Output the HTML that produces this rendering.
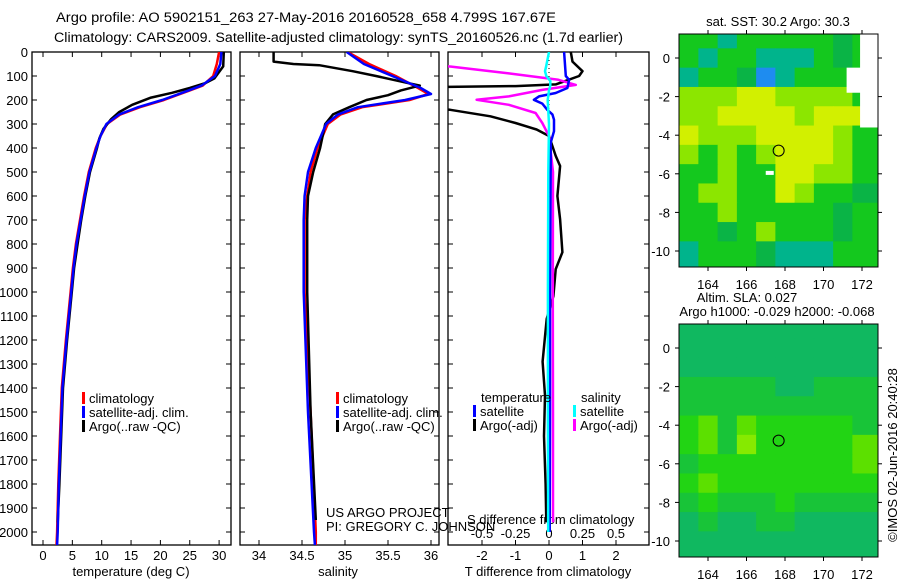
<!DOCTYPE html>
<html><head><meta charset="utf-8">
<style>
html,body{margin:0;padding:0;background:#fff;}
svg{display:block;font-family:"Liberation Sans",sans-serif;}
text{fill:#000;}
</style></head>
<body>
<svg id="chart" width="900" height="580" viewBox="0 0 900 580" xmlns="http://www.w3.org/2000/svg">
<defs>
<clipPath id="c1"><rect x="32" y="52" width="199" height="493"/></clipPath>
<clipPath id="c2"><rect x="240" y="52" width="199" height="493"/></clipPath>
<clipPath id="c3"><rect x="448" y="52" width="201" height="493"/></clipPath>
<clipPath id="m1"><rect x="679" y="34" width="199" height="233"/></clipPath>
<clipPath id="m2"><rect x="679" y="324" width="199" height="233"/></clipPath>
</defs>
<text x="56" y="22" font-size="13.5" textLength="500" lengthAdjust="spacingAndGlyphs">Argo profile: AO 5902151_263 27-May-2016 20160528_658 4.799S 167.67E</text>
<text x="54" y="42" font-size="13.5" textLength="569" lengthAdjust="spacingAndGlyphs">Climatology: CARS2009. Satellite-adjusted climatology: synTS_20160526.nc (1.7d earlier)</text>
<g id="layer"></g>
</svg>
<script>
// ---------- data ----------
const depthTicks=[0,100,200,300,400,500,600,700,800,900,1000,1100,1200,1300,1400,1500,1600,1700,1800,1900,2000];
const tempTicks=[0,5,10,15,20,25,30];
const salTicks=[34,34.5,35,35.5,36];
const tdTicks=[-2,-1,0,1,2];
const sdTicks=[-0.5,-0.25,0,0.25,0.5];
const sdTickLabels=["-0.5","-0.25","0","0.25","0.5"];
const lonTicks=[164,166,168,170,172];
const latTicks=[0,-2,-4,-6,-8,-10];

const tClimDepth=[0,50,100,140,160,180,200,230,260,300,350,400,500,600,700,800,900,1000,1200,1400,1600,1800,2000,2054];
const tClim=[30.0,29.6,29.0,27.2,25.0,22.8,20.6,16.5,13.2,10.9,9.8,9.0,7.8,7.0,6.3,5.6,5.1,4.7,3.9,3.2,2.9,2.6,2.4,2.3];
const tSat=[30.4,30.2,29.3,27.0,24.8,22.6,20.3,16.2,13.0,10.8,9.8,9.1,7.9,7.1,6.4,5.7,5.2,4.8,4.0,3.3,3.0,2.7,2.5,2.4];
const tArgoDepth=[0,60,110,130,150,170,190,220,250,280,320,360,400,500,600,700,800,900,1000,1200,1400,1600,1800,1960];
const tArgo=[30.8,30.7,29.2,27.6,25.0,22.0,18.4,15.2,13.0,11.6,10.3,9.6,9.2,8.0,7.2,6.5,5.9,5.3,4.9,4.1,3.4,3.1,2.8,2.5];

const sClimDepth=[0,50,100,150,175,200,230,260,300,400,500,600,700,1000,1500,2000,2054];
const sClim=[35.03,35.28,35.59,35.85,35.97,35.75,35.2,34.95,34.8,34.68,34.6,34.56,34.53,34.53,34.6,34.66,34.66];
const sSat=[35.02,35.22,35.55,35.88,36.0,35.7,35.15,34.92,34.78,34.66,34.57,34.53,34.52,34.52,34.57,34.64,34.65];
const sArgoDepth=[0,40,50,55,80,100,130,140,160,180,200,230,260,300,400,500,600,700,1000,1500,1950];
const sArgo=[34.17,34.17,34.4,34.7,35.09,35.36,35.74,35.87,35.65,35.5,35.25,35.05,34.86,34.77,34.71,34.63,34.57,34.56,34.56,34.6,34.66];

const dTSatDepth=[0,100,116,150,171,185,199,215,241,260,282,330,378,450,1000,1500,2000];
const dTSat=[0.45,0.5,0.6,0.55,0.2,-0.3,-0.45,-0.2,-0.05,0.1,0.15,0.15,0.05,0.05,0.03,0.03,0.02];
const dTArgoDepth=[0,40,80,100,120,135,142,146,236,241,268,296,323,350,433,475,600,697,834,905,1017,1112,1290,1431,1600,1800,1960];
const dTArgo=[0.65,0.7,1.0,0.9,0.5,0.2,-1.0,-3.5,-3.5,-2.95,-1.75,-1.0,-0.37,0.0,0.2,0.33,0.25,0.33,0.4,0.2,0.13,-0.07,-0.19,-0.12,-0.15,-0.1,-0.08];
const dSSatDepth=[0,61,80,100,120,140,160,200,300,500,1000,1500,2000];
const dSSat=[0,-0.022,-0.03,-0.02,0.01,0.01,0,-0.01,0,-0.005,-0.008,-0.008,-0.006];
const dSArgoDepth=[0,55,61,89,116,137,158,185,199,220,254,296,350,500,1000,1500,1960];
const dSArgo=[-1.0,-0.9,-0.73,-0.3,0.07,0.2,-0.05,-0.3,-0.54,-0.3,-0.1,-0.05,0.0,0.03,0.028,0.03,0.03];

// maps: rows lat 1..-10, cols lon 163..172
const sstRows=["ggcgggggmg","gcggcccgmg","cggmbcgggg","lllyyllllg","llyyyylyyy","ylllyyyylg","lglglyyylg","gglggyyllg","gllggylggm","gglgggggmg","ggmglgggmg","cgggmcccgg"];
const slaRows=["tttttttttt","tttttttttt","tttttttttt","mmmmmttmmm","mmmmmmmmmm","glmlgggggm","glmkgggggl","mggggggggl","glgggggggg","mgmmmgmmmm","tmttmmtttt","tttttttttt"];

// ---------- helpers ----------
const NS="http://www.w3.org/2000/svg";
const layer=document.getElementById('layer');
function mk(tag,attrs,parent){const e=document.createElementNS(NS,tag);for(const k in attrs)e.setAttribute(k,attrs[k]);(parent||layer).appendChild(e);return e;}
const yD=d=>52+d*0.24;
const xT=t=>43+t*5.87;
const xS=s=>259+(s-34)*86;
const xTd=t=>549+t*33.5;
const xSd=s=>549+s*134;
const xLon=l=>708+(l-164)*19.25;
const yLat1=l=>58-l*19.3;
const yLat2=l=>348-l*19.3;

function pts(depths,vals,fx){return depths.map((d,i)=>fx(vals[i]).toFixed(1)+","+yD(d).toFixed(1)).join(" ");}

// panels
const panels=[[32,231,'temperature-panel'],[240,439,'salinity-panel'],[448,649,'difference-panel']];
panels.forEach(p=>{
  const r=mk('rect',{x:p[0],y:52,width:p[1]-p[0],height:493,fill:'none',stroke:'#000','stroke-width':1.3});
  
  
  depthTicks.forEach(d=>{
    mk('line',{x1:p[0],x2:p[0]+5,y1:yD(d),y2:yD(d),stroke:'#000'});
    mk('line',{x1:p[1]-5,x2:p[1],y1:yD(d),y2:yD(d),stroke:'#000'});
  });
});
depthTicks.forEach(d=>{
  const t=mk('text',{x:28,y:yD(d)+5,'font-size':13,'text-anchor':'end'});t.textContent=d;
  
  
});
function xticks(vals,labels,fx,ty,fs){
  vals.forEach((v,i)=>{
    mk('line',{x1:fx(v),x2:fx(v),y1:540,y2:545,stroke:'#000'});
    mk('line',{x1:fx(v),x2:fx(v),y1:52,y2:57,stroke:'#000'});
    const t=mk('text',{x:fx(v),y:ty,'font-size':fs||13,'text-anchor':'middle'});t.textContent=labels[i];
    
    
  });
}
xticks(tempTicks,tempTicks,xT,560);
xticks(salTicks,salTicks,xS,560);
xticks(tdTicks,tdTicks,xTd,560);
sdTicks.forEach((v,i)=>{const t=mk('text',{x:xSd(v),y:538,'font-size':13,'text-anchor':'middle'});t.textContent=sdTickLabels[i];
  
  });
function lbl(x,y,s,name,anchor,fs){const t=mk('text',{x:x,y:y,'font-size':fs||13,'text-anchor':anchor||'middle'});t.textContent=s;
  
  return t;}
lbl(131,576,'temperature (deg C)','temperature-axis-title');
lbl(338,576,'salinity','salinity-axis-title');
lbl(548,576,'T difference from climatology','t-diff-axis-title');
lbl(467,524,'S difference from climatology','s-diff-axis-title','start');
lbl(326,517,'US ARGO PROJECT','project-label','start');
lbl(326,531,'PI: GREGORY C. JOHNSON','pi-label','start');

// dotted zero line
mk('line',{x1:549,x2:549,y1:52,y2:200,stroke:'#000','stroke-dasharray':'1,3'});

function line(cp,d,v,fx,col,name){
  const pl=mk('polyline',{points:pts(d,v,fx),fill:'none',stroke:col,'stroke-width':2.5,'clip-path':'url(#'+cp+')','stroke-linejoin':'round'});
  
  
}
line('c1',tClimDepth,tClim,xT,'#f00','temp-climatology-line');
line('c1',tArgoDepth,tArgo,xT,'#000','temp-argo-line');
line('c1',tClimDepth,tSat,xT,'#00f','temp-satellite-line');
line('c2',sClimDepth,sClim,xS,'#f00','sal-climatology-line');
line('c2',sArgoDepth,sArgo,xS,'#000','sal-argo-line');
line('c2',sClimDepth,sSat,xS,'#00f','sal-satellite-line');
line('c3',dTArgoDepth,dTArgo,xTd,'#000','tdiff-argo-line');
line('c3',dSArgoDepth,dSArgo,xSd,'#f0f','sdiff-argo-line');
line('c3',dTSatDepth,dTSat,xTd,'#00f','tdiff-satellite-line');
line('c3',dSSatDepth,dSSat,xSd,'#0ff','sdiff-satellite-line');

// legends
function legend(x,y,col,s,name){
  const g=mk('g',{});
  
  
  mk('rect',{x:x,y:y-11,width:3,height:12,fill:col},g);
  const t=mk('text',{x:x+7,y:y,'font-size':13},g);t.textContent=s;
}
legend(82,403,'#f00','climatology','legend-climatology');
legend(82,417,'#00f','satellite-adj. clim.','legend-satellite');
legend(82,431,'#000','Argo(..raw -QC)','legend-argo');
legend(336,403,'#f00','climatology','legend-sal-climatology');
legend(336,417,'#00f','satellite-adj. clim.','legend-sal-satellite');
legend(336,431,'#000','Argo(..raw -QC)','legend-sal-argo');
lbl(481,402,'temperature','legend-temperature-head','start');
lbl(581,402,'salinity','legend-salinity-head','start');
legend(473,416,'#00f','satellite','legend-t-satellite');
legend(473,430,'#000','Argo(-adj)','legend-t-argo');
legend(573,416,'#0ff','satellite','legend-s-satellite');
legend(573,430,'#f0f','Argo(-adj)','legend-s-argo');

// maps
const sstCol={g:'#14c81e',m:'#0ab446',c:'#00b48c',b:'#1e8cf0',l:'#8ce600',y:'#d2f000'};
const slaCol={t:'#10b860',m:'#18c438',g:'#22d414',l:'#5ce000',k:'#86ea00'};
function drawMap(rows,cols,yL,cp,name,ymin){
  const g=mk('g',{'clip-path':'url(#'+cp+')'});
  
  
  rows.forEach((r,i)=>{
    const lat=1-i;
    for(let j=0;j<r.length;j++){
      const lon=163+j;
      const x0=xLon(lon-0.5), x1=j==r.length-1?xLon(lon+1.5):xLon(lon+0.5);
      const y0=i==0?yL(lat+1):yL(lat+0.5), y1=i==rows.length-1?yL(lat-1):yL(lat-0.5);
      const c=mk('rect',{x:x0,y:y0,width:x1-x0+0.5,height:y1-y0+0.5,fill:cols[r[j]]},g);
      
      
    }
  });
  return g;
}
const g1=drawMap(sstRows,sstCol,yLat1,'m1','sst-map');
// white gaps in SST map
mk('rect',{x:xLon(171.9),y:34,width:20,height:yLat1(-3.6)-34,fill:'#fff'},g1);
mk('rect',{x:xLon(171.2),y:yLat1(-0.5),width:20,height:yLat1(-1.8)-yLat1(-0.5),fill:'#fff'},g1);
mk('rect',{x:xLon(167),y:yLat1(-5.85),width:8,height:4,fill:'#fff'},g1);
drawMap(slaRows,slaCol,yLat2,'m2','sla-map');
[[yLat1,34,'sst-map-frame'],[yLat2,324,'sla-map-frame']].forEach(m=>{
  const yL=m[0],top=m[1];
  const f=mk('rect',{x:679,y:top,width:199,height:233,fill:'none',stroke:'#000','stroke-width':1});
  
  
  lonTicks.forEach(l=>{
    mk('line',{x1:xLon(l),x2:xLon(l),y1:top,y2:top-4,stroke:'#000'});
    mk('line',{x1:xLon(l),x2:xLon(l),y1:top+233,y2:top+237,stroke:'#000'});
    lbl(xLon(l),top+255,String(l),'lon-tick-label');
  });
  latTicks.forEach(l=>{
    mk('line',{x1:679,x2:675,y1:yL(l),y2:yL(l),stroke:'#000'});
    mk('line',{x1:878,x2:882,y1:yL(l),y2:yL(l),stroke:'#000'});
    lbl(670,yL(l)+5,String(l),'lat-tick-label','end');
  });
  const c=mk('circle',{cx:xLon(167.67),cy:yL(-4.8),r:5.5,fill:'none',stroke:'#000','stroke-width':1});
  
  
});
lbl(778,26,'sat. SST: 30.2 Argo: 30.3','sst-map-title');
lbl(747,302,'Altim. SLA: 0.027','sla-map-title');
lbl(777,316,'Argo h1000: -0.029 h2000: -0.068','sla-map-subtitle');
const cr=lbl(0,0,'©IMOS 02-Jun-2016 20:40:28','imos-credit');
cr.setAttribute('transform','translate(897,455) rotate(-90)');
</script>
</body></html>
